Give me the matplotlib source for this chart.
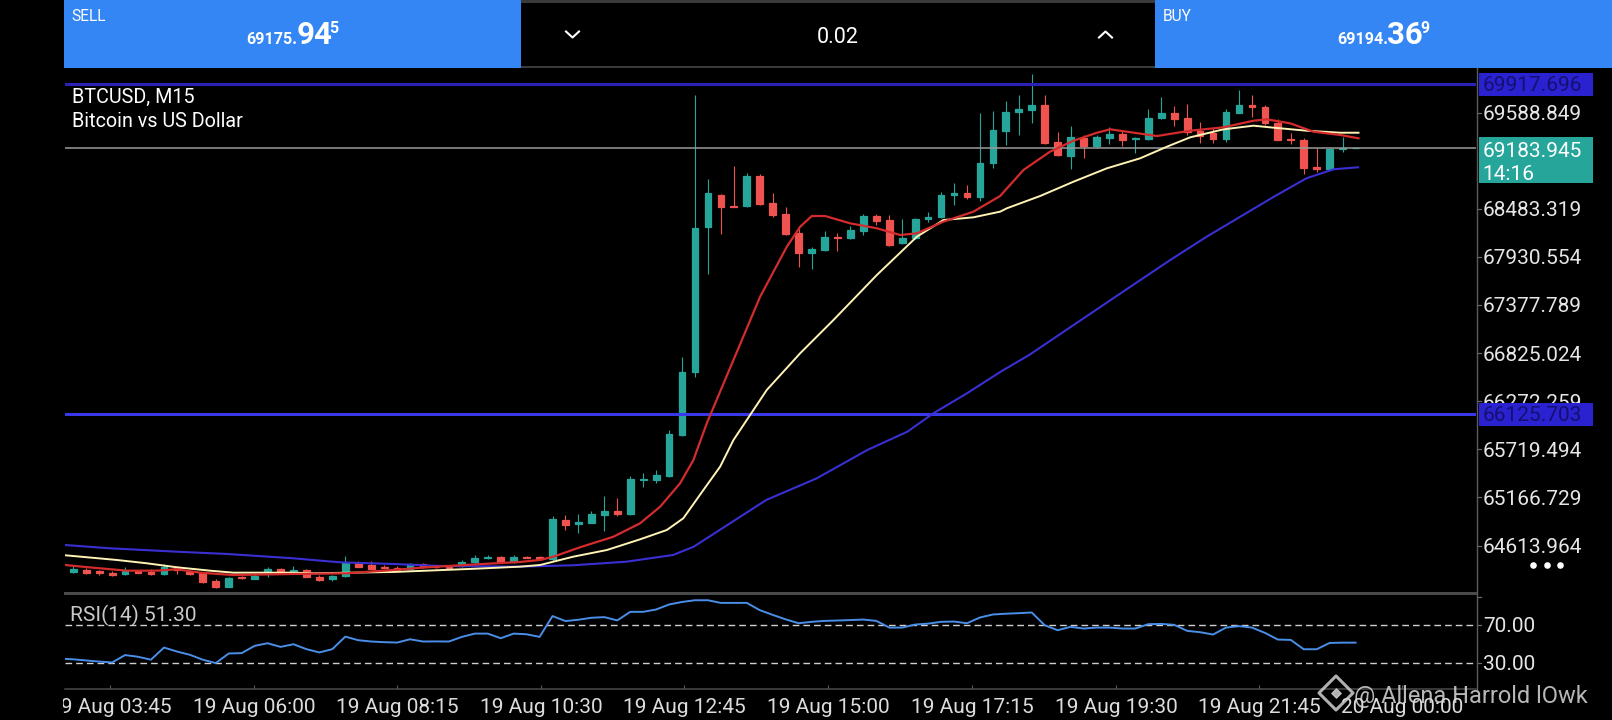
import numpy as np
import matplotlib
matplotlib.use("Agg")
import matplotlib.pyplot as plt
from matplotlib.patches import Rectangle

plt.rcParams['font.family'] = ['Roboto', 'DejaVu Sans']

# ---------------- data ----------------
opens = [64314, 64334, 64319, 64303, 64284, 64319, 64311, 64284, 64357, 64311,
         64296, 64211, 64142, 64250, 64234, 64311, 64345, 64311, 64334, 64257,
         64227, 64265, 64411, 64395, 64363, 64360, 64349, 64399, 64367, 64372,
         64374, 64420, 64477, 64480, 64426, 64483, 64480, 64457, 64908, 64862,
         64877, 64969, 65015, 64977, 65370, 65368, 65414, 65881, 66609, 68278,
         68642, 68516, 68516, 68861, 68554, 68424, 68209, 67973, 68011, 68163,
         68148, 68232, 68401, 68355, 68087, 68148, 68363, 68386, 68639, 68662,
         68623, 69007, 69381, 69593, 69623, 69677, 69251, 69091, 69294, 69205,
         69297, 69343, 69286, 69286, 69527, 69588, 69527, 69381, 69351, 69286,
         69588, 69677, 69657, 69473, 69286, 69274, 68961, 68938, 69171, 69183.9]
highs = [64380, 64351, 64334, 64317, 64365, 64334, 64342, 64403, 64380, 64322,
         64311, 64230, 64253, 64268, 64282, 64368, 64362, 64383, 64345, 64271,
         64276, 64495, 64441, 64441, 64391, 64374, 64414, 64414, 64380, 64385,
         64443, 64506, 64503, 64495, 64506, 64489, 64489, 64954, 64962, 64977,
         65015, 65184, 65158, 65414, 65452, 65483, 65942, 66778, 69795, 68830,
         68654, 68976, 68899, 68884, 68669, 68508, 68248, 68049, 68232, 68209,
         68286, 68424, 68424, 68416, 68370, 68378, 68447, 68677, 68784, 68754,
         69581, 69611, 69726, 69791, 70033, 69791, 69370, 69435, 69332, 69332,
         69427, 69389, 69312, 69627, 69765, 69665, 69688, 69485, 69409, 69627,
         69849, 69791, 69677, 69512, 69351, 69297, 69179, 69183, 69312, 69186]
lows = [64303, 64288, 64277, 64265, 64271, 64294, 64277, 64271, 64288, 64277,
        64185, 64127, 64133, 64234, 64225, 64250, 64299, 64299, 64248, 64207,
        64213, 64248, 64363, 64340, 64351, 64322, 64340, 64357, 64353, 64351,
        64363, 64414, 64457, 64414, 64414, 64472, 64449, 64437, 64793, 64762,
        64868, 64785, 64954, 64966, 65291, 65330, 65402, 65873, 66555, 67735,
        68194, 68501, 68505, 68527, 68386, 68183, 67819, 67789, 67999, 68002,
        68137, 68183, 68298, 68062, 68079, 68137, 68336, 68378, 68528, 68600,
        68577, 68949, 69217, 69332, 69466, 69234, 69091, 68938, 69064, 69179,
        69228, 69205, 69128, 69274, 69512, 69435, 69332, 69236, 69236, 69255,
        69579, 69542, 69447, 69269, 69228, 68884, 68910, 68930, 69140, 69182]
closes = [64342, 64303, 64296, 64280, 64326, 64303, 64284, 64372, 64334, 64284,
          64196, 64142, 64238, 64242, 64268, 64342, 64311, 64334, 64257, 64219,
          64261, 64418, 64372, 64349, 64358, 64334, 64399, 64365, 64364, 64360,
          64420, 64477, 64481, 64426, 64487, 64476, 64457, 64923, 64847, 64889,
          64977, 65015, 64977, 65376, 65376, 65429, 65896, 66609, 68263, 68662,
          68508, 68510, 68861, 68539, 68413, 68194, 67973, 68019, 68163, 68148,
          68240, 68401, 68347, 68071, 68148, 68363, 68393, 68642, 68662, 68616,
          69007, 69389, 69596, 69631, 69680, 69243, 69102, 69305, 69205, 69305,
          69340, 69274, 69292, 69527, 69588, 69519, 69370, 69320, 69289, 69596,
          69677, 69650, 69466, 69274, 69279, 68949, 68938, 69171, 69184, 69183.945]

# moving averages: (bar position, value) pairs
ma_fast_x = [-0.64, 1.54, 4.12, 6.44, 7.98, 9.78, 12.36, 16.99, 21.11, 24.71,
             27.29, 31.15, 34.49, 36.04, 37.07, 39.13, 41.7, 43.76, 45.31, 46.85,
             47.88, 48.91, 50.97, 53.03, 55.09, 56.12, 57.02, 58.05, 59.98, 62.04,
             63.84, 65.13, 67.18, 69.5, 71.56, 73.36, 75.41, 77.22, 79.03, 80.05,
             81.34, 83.66, 86.23, 88.8, 91.12, 92.15, 93.95, 95.75, 97.81, 99.23]
ma_fast = [64391, 64360, 64326, 64326, 64342, 64303, 64276, 64288, 64296, 64334,
           64365, 64399, 64426, 64449, 64487, 64595, 64716, 64870, 65061, 65330,
           65598, 66019, 66747, 67474, 68048, 68278, 68401, 68401, 68317, 68260,
           68183, 68202, 68336, 68451, 68631, 68930, 69140, 69266, 69358, 69397,
           69370, 69320, 69381, 69420, 69496, 69512, 69466, 69370, 69332, 69294]
ma_mid_x = [-0.64, 3.35, 5.67, 7.98, 10.56, 12.36, 16.99, 18.53, 21.37, 24.71,
            27.29, 31.15, 34.49, 36.04, 38.61, 41.19, 43.76, 45.82, 47.1, 48.65,
            49.94, 50.97, 53.54, 56.12, 58.69, 62.04, 65.13, 67.18, 69.5, 71.56,
            72.08, 74.65, 77.22, 79.8, 82.37, 84.43, 86.23, 88.8, 91.12, 92.66,
            95.24, 97.81, 99.23]
ma_mid = [64503, 64449, 64411, 64365, 64326, 64303, 64303, 64296, 64303, 64311,
          64326, 64349, 64372, 64391, 64487, 64563, 64686, 64793, 64928, 65253,
          65521, 65827, 66402, 66824, 67206, 67723, 68163, 68355, 68386, 68451,
          68490, 68631, 68795, 68949, 69064, 69197, 69305, 69397, 69439, 69416,
          69381, 69358, 69358]
ma_slow_x = [-0.64, 2.84, 7.98, 11.85, 16.99, 20.59, 24.71, 28.3, 34.5, 38.6,
             42.7, 46.3, 47.9, 49.9, 53.5, 57.4, 61.3, 64.4, 66.4, 69.0,
             71.6, 73.8, 81.7, 84.7, 87.5, 90.1, 92.7, 95.2, 97.3, 99.2]
ma_slow = [64621, 64583, 64544, 64518, 64468, 64422, 64403, 64380, 64372, 64388,
           64429, 64506, 64601, 64793, 65138, 65387, 65712, 65923, 66134, 66364,
           66612, 66804, 67597, 67896, 68163, 68393, 68623, 68834, 68938, 68961]

# RSI(14), one value per bar, starting one bar left of the first visible candle
rsi_values = [34.3, 33.6, 32.4, 31.2, 30.3, 38.1, 36.3, 33.2, 46.1, 41.9,
              38.4, 33.2, 29.6, 39.8, 40.2, 47.9, 50.7, 46.8, 49.6, 44.4,
              40.9, 44.4, 57.7, 53.9, 52.5, 51.8, 51.4, 54.9, 52.5, 52.6,
              52.5, 57.4, 60.9, 60.9, 56.0, 60.9, 60.2, 57.4, 79.5, 74.2,
              75.6, 77.7, 78.4, 74.9, 84.0, 84.0, 86.5, 91.8, 94.5, 96.3,
              96.3, 93.5, 93.5, 93.5, 85.8, 80.8, 76.0, 71.9, 73.4, 74.4,
              74.8, 75.3, 75.8, 74.4, 67.3, 67.3, 70.5, 71.5, 73.4, 73.7,
              71.9, 78.0, 81.2, 82.0, 82.6, 83.3, 69.8, 64.5, 68.1, 66.3,
              67.3, 67.3, 66.3, 66.3, 70.9, 71.2, 70.2, 63.8, 62.4, 59.9,
              67.3, 68.8, 67.3, 61.7, 54.6, 54.2, 44.3, 44.3, 51.0, 51.3, 51.3]
rsi_last = 51.30
rsi_levels = [70.0, 30.0]

level_high = 69917.696
level_low = 66125.703
last_price = 69183.945
bar_timer = "14:16"

# visible price-scale labels (69036.084 sits hidden under the price box)
price_ticks = [69588.849, 68483.319, 67930.554, 67377.789,
               66825.024, 66272.259, 65719.494, 65166.729, 64613.964]
time_labels = ["19 Aug 03:45", "19 Aug 06:00", "19 Aug 08:15", "19 Aug 10:30",
               "19 Aug 12:45", "19 Aug 15:00", "19 Aug 17:15", "19 Aug 19:30",
               "19 Aug 21:45", "20 Aug 00:00"]
tick_pos = [2.87, 13.95, 25.0, 36.1, 47.16, 58.28, 69.4, 80.5, 91.56, 102.6]

sell_parts = ("69175.", "94", "5")
buy_parts = ("69194.", "36", "9")
lot_text = "0.02"
symbol_text = "BTCUSD, M15"
desc_text = "Bitcoin vs US Dollar"
watermark = "@ Allena Harrold lOwk"

# ---------------- styles ----------------
BULL = '#26a69a'
BEAR = '#ef5350'
TOPBLUE = '#3486f4'
W, H = 1612, 720
L, R = 65, 1476
T_MAIN, B_MAIN, B_RSI = 68, 593, 689

fig = plt.figure(figsize=(W / 100, H / 100), dpi=100, facecolor='black')
ax = fig.add_axes([L / W, 1 - B_MAIN / H, (R - L) / W, (B_MAIN - T_MAIN) / H])
rax = fig.add_axes([L / W, 1 - B_RSI / H, (R - L) / W, (B_RSI - B_MAIN) / H])
for a in (ax, rax):
    a.set_facecolor('black')
    for s in a.spines.values():
        s.set_visible(False)
    a.set_xticks([])
    a.set_yticks([])
    a.set_xlim(-0.64, 108.3)
ax.set_ylim(64069.4, 70101.7)
rax.set_ylim(2.1, 104)

# candles
o = np.array(opens, float)
h = np.array(highs, float)
lo = np.array(lows, float)
c = np.array(closes, float)
idx = np.arange(len(o))
cols = np.where(c >= o, BULL, BEAR)
ax.vlines(idx, lo, h, colors=cols, lw=0.8, zorder=2)
ax.bar(idx, np.abs(c - o), bottom=np.minimum(o, c), width=0.52, color=cols,
       edgecolor=cols, linewidth=0.9, zorder=2.5)

# horizontal levels
ax.axhline(level_high, color='#2b20b8', lw=2.2, zorder=3)
ax.axhline(level_low, color='#3838e8', lw=2.2, zorder=3)
ax.axhline(last_price, color='#9a9a9a', lw=1.1, zorder=3)

# moving averages
ax.plot(ma_slow_x, ma_slow, color='#3a2fd2', lw=1.5, zorder=4)
ax.plot(ma_mid_x, ma_mid, color='#fff3b5', lw=1.4, zorder=4.1)
ax.plot(ma_fast_x, ma_fast, color='#d42c2c', lw=1.6, zorder=4.2)

# RSI panel
rsi_x = np.arange(-1, len(rsi_values) - 1)
for lv in rsi_levels:
    rax.axhline(lv, color='#cfcfcf', lw=1.0, ls=(0, (4.8, 2.9)), zorder=1)
rax.plot(rsi_x, rsi_values, color='#4a8fe7', lw=1.4, zorder=3)
rax.spines['bottom'].set_visible(True)
rax.spines['bottom'].set_color('#4a4a4a')
rax.spines['bottom'].set_linewidth(1.1)
rax.set_xticks(tick_pos)
rax.tick_params(axis='x', direction='in', length=3, width=0.8, color='#5a5a5a',
                labelbottom=False)

# ---------------- overlay in pixel coordinates ----------------
ov = fig.add_axes([0, 0, 1, 1], zorder=10)
ov.set_xlim(0, W)
ov.set_ylim(H, 0)
ov.axis('off')
renderer = fig.canvas.get_renderer()


def py_price(p):
    return H - ax.transData.transform((0, p))[1]


def py_rsi(v):
    return H - rax.transData.transform((0, v))[1]


def px_bar(i):
    return ax.transData.transform((i, 0))[0]


# top bar
ov.add_patch(Rectangle((64, 0), 457, 67.5, fc=TOPBLUE, ec='none'))
ov.add_patch(Rectangle((1155, 0), 457, 67.5, fc=TOPBLUE, ec='none'))
ov.add_patch(Rectangle((521, 0), 634, 2.5, fc='#3a3a3a', ec='none'))
ov.add_patch(Rectangle((521, 65.5), 634, 2.5, fc='#3a3a3a', ec='none'))
ov.text(71.5, 20.7, "SELL", color='white', fontsize=11.2, va='baseline')
ov.text(1162.5, 20.7, "BUY", color='white', fontsize=11.2, va='baseline')


def price_group(parts, cx):
    t1 = ov.text(0, 44, parts[0], color='white', fontsize=11.6,
                 fontweight='bold', ha='left', va='baseline')
    t2 = ov.text(0, 44, parts[1], color='white', fontsize=22.5,
                 fontweight='bold', ha='left', va='baseline')
    t3 = ov.text(0, 33.3, parts[2], color='white', fontsize=11.5,
                 fontweight='bold', ha='left', va='baseline')
    w = [t.get_window_extent(renderer).width for t in (t1, t2, t3)]
    x = cx - (sum(w) - 4.5) / 2
    t1.set_x(x)
    t2.set_x(x + w[0] - 1.0)
    t3.set_x(x + w[0] + w[1] - 3.5)


price_group(sell_parts, 292)
price_group(buy_parts, 1383)

ov.text(838, 42.6, lot_text, color='white', fontsize=15.5, ha='center',
        va='baseline')
ov.plot([566, 572.5, 579], [31.5, 37.5, 31.5], color='white', lw=1.5)
ov.plot([1099, 1105.5, 1112], [37.5, 31.5, 37.5], color='white', lw=1.5)

# symbol text
ov.text(71.5, 103.3, symbol_text, color='white', fontsize=14.2, va='baseline')
ov.text(71.5, 127.3, desc_text, color='white', fontsize=14.2, va='baseline')

# right price axis
ov.plot([R + 0.7, R + 0.7], [67.5, 690], color='#5c5c5c', lw=1.0, zorder=4)
for p in price_ticks:
    y = py_price(p)
    ov.text(1483, y + 7.4, f"{p:.3f}", color='#e6e6e6', fontsize=15,
            va='baseline', ha='left', zorder=3)
    ov.plot([R + 0.7, R + 4.5], [y, y], color='#6a6a6a', lw=0.9, zorder=3)

for lv in (level_high, level_low):
    y = py_price(lv)
    ov.add_patch(Rectangle((1479, y - 11.5), 114, 23, fc='#2a22d0', ec='none',
                           zorder=5))
    ov.text(1482.5, y + 7.4, f"{lv:.3f}", color='#15106e', fontsize=15,
            va='baseline', ha='left', zorder=6)

y = py_price(last_price)
ov.add_patch(Rectangle((1479, y - 11), 114, 46, fc='#26a69a', ec='none', zorder=5))
ov.text(1482.5, y + 9.2, f"{last_price:.3f}", color='white', fontsize=15,
        va='baseline', ha='left', zorder=6)
ov.text(1482.5, y + 32.2, bar_timer, color='white', fontsize=15,
        va='baseline', ha='left', zorder=6)

ov.scatter([1533, 1546.5, 1560], [565, 565, 565], s=14, color='white', zorder=5)

# separator between panels
ov.add_patch(Rectangle((64, 591.7), R - 64 + 0.7, 3.3, fc='#4a4a4a', ec='none',
                       zorder=4))

# RSI labels
ov.text(70, 621.7, f"RSI(14) {rsi_last:.2f}", color='#c8c8c8', fontsize=15,
        va='baseline', ha='left')
for lv in rsi_levels:
    y = py_rsi(lv)
    ov.text(1483, y + 7.4, f"{lv:.2f}", color='#e6e6e6', fontsize=15,
            va='baseline', ha='left')
    ov.plot([R + 0.7, R + 4.5], [y, y], color='#6a6a6a', lw=0.9)
y = py_rsi(100)
ov.plot([R + 0.7, R + 4.5], [y, y], color='#6a6a6a', lw=0.9)

# time labels
for pos, lab in zip(tick_pos, time_labels):
    ov.text(px_bar(pos), 713.3, lab, color='#dcdcdc', fontsize=15,
            ha='center', va='baseline', zorder=3)

# watermark
ov.text(1354, 702.5, watermark, color='#d8d8d8', alpha=0.85, fontsize=17,
        ha='left', va='baseline', zorder=7)
ov.scatter([1336], [693], s=300, marker='D', facecolors='none',
           edgecolors='#d0d0d0', linewidths=2.2, alpha=0.85, zorder=7)
ov.scatter([1336], [693], s=22, marker='D', color='#d0d0d0', alpha=0.85, zorder=7)

# left margin mask (clips the first time label)
ov.add_patch(Rectangle((0, 68), 63, H - 68, fc='black', ec='none', zorder=20))
ov.add_patch(Rectangle((0, 0), 64, 68, fc='black', ec='none', zorder=20))

fig.savefig('out.png', dpi=100, facecolor='black')
